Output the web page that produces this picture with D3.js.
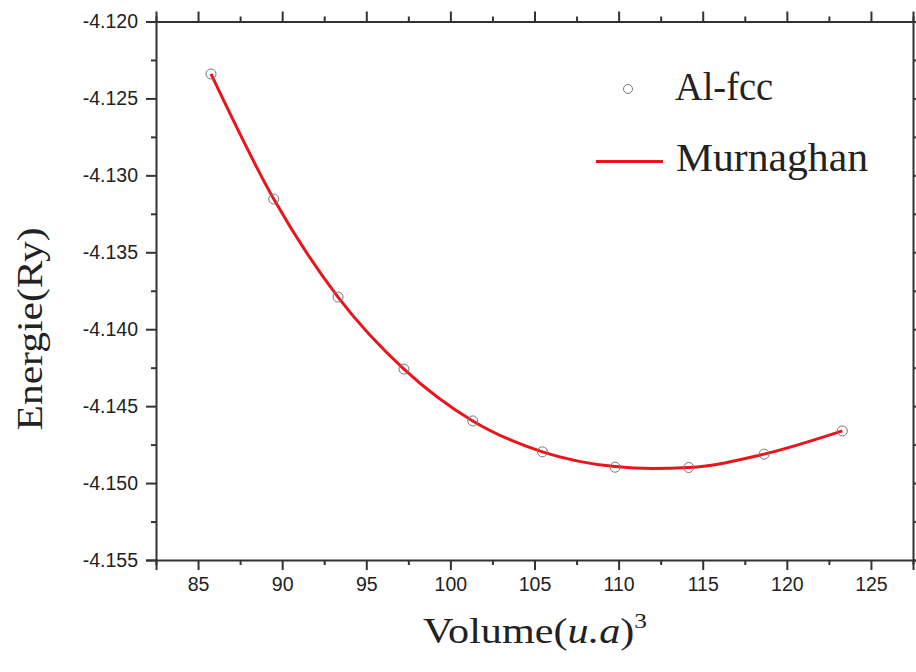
<!DOCTYPE html>
<html>
<head>
<meta charset="utf-8">
<script src="https://cdn.jsdelivr.net/npm/d3@7"></script>
<style>
  html, body { margin: 0; padding: 0; background: #fff; }
  svg { display: block; }
</style>
</head>
<body>
<svg id="chart" width="916" height="672"></svg>
<script>
// ---- Data ----
const volume = [85.77, 89.50, 93.32, 97.24, 101.33, 105.47, 109.79, 114.17, 118.65, 123.30];
const energy = [-4.12341, -4.13154, -4.13791, -4.14259, -4.14596, -4.14797, -4.14897, -4.14899, -4.14812, -4.14661];
const fitVolume = [85.77, 89.50, 93.32, 97.24, 101.33, 105.47, 109.79, 112.00, 114.17, 118.65, 123.30];
const fitEnergy = [-4.12341, -4.13154, -4.13791, -4.14259, -4.14596, -4.14797, -4.14893, -4.14905, -4.14899, -4.14812, -4.14661];
const xTicks = [85, 90, 95, 100, 105, 110, 115, 120, 125];
const xMinor = [82.5, 87.5, 92.5, 97.5, 102.5, 107.5, 112.5, 117.5, 122.5, 127.5];
const yTicks = [-4.120, -4.125, -4.130, -4.135, -4.140, -4.145, -4.150, -4.155];
const yMinor = [-4.1225, -4.1275, -4.1325, -4.1375, -4.1425, -4.1475, -4.1525];
const legendLabels = ["Al-fcc", "Murnaghan"];

// ---- Layout ----
const L = 156, R = 913, T = 21.5, B = 560;
const svg = d3.select("#chart");
const x = d3.scaleLinear().domain([82.5, 127.5]).range([L, R]);
const y = d3.scaleLinear().domain([-4.155, -4.120]).range([B, T]);
const axisColor = "#333";
const tickFont = "'Liberation Sans', Arial, sans-serif";
const serif = "'Liberation Serif', 'Times New Roman', serif";

function styleAxis(g) {
  g.selectAll("path.domain").attr("stroke", axisColor).attr("stroke-width", 2);
  g.selectAll(".tick line").attr("stroke", axisColor).attr("stroke-width", 2);
  g.selectAll(".tick text").attr("fill", "#222").style("font-family", tickFont).style("font-size", "19.5px");
}
function minor(g) {
  g.select("path.domain").remove();
  g.selectAll(".tick line").attr("stroke", axisColor).attr("stroke-width", 2);
}

// Bottom axis
const gB = svg.append("g").attr("transform", `translate(0,${B})`)
  .call(d3.axisBottom(x).tickValues(xTicks).tickSize(10).tickPadding(7).tickFormat(d3.format("d")));
styleAxis(gB);
svg.append("g").attr("transform", `translate(0,${B})`)
  .call(d3.axisBottom(x).tickValues(xMinor).tickSize(5).tickFormat("")).call(minor);

// Top axis
const gT = svg.append("g").attr("transform", `translate(0,${T})`)
  .call(d3.axisTop(x).tickValues(xTicks).tickSize(10).tickFormat(""));
styleAxis(gT);
svg.append("g").attr("transform", `translate(0,${T})`)
  .call(d3.axisTop(x).tickValues(xMinor).tickSize(5).tickFormat("")).call(minor);

// Left axis
const gL = svg.append("g").attr("transform", `translate(${L},0)`)
  .call(d3.axisLeft(y).tickValues(yTicks).tickSize(10).tickPadding(8).tickFormat(d3.format(".3f")));
styleAxis(gL);
gL.selectAll(".tick text").text(d => d3.format(".3f")(d).replace("−", "-"));
svg.append("g").attr("transform", `translate(${L},0)`)
  .call(d3.axisLeft(y).tickValues(yMinor).tickSize(5).tickFormat("")).call(minor);

// Right axis
const gR = svg.append("g").attr("transform", `translate(${R},0)`)
  .call(d3.axisRight(y).tickValues(yTicks).tickSize(10).tickFormat(""));
styleAxis(gR);
svg.append("g").attr("transform", `translate(${R},0)`)
  .call(d3.axisRight(y).tickValues(yMinor).tickSize(5).tickFormat("")).call(minor);

// Fit line
const fitData = fitVolume.map((v, i) => [v, fitEnergy[i]]);
svg.append("path")
  .datum(fitData)
  .attr("fill", "none")
  .attr("stroke", "#e8161c")
  .attr("stroke-width", 3)
  .attr("d", d3.line().x(d => x(d[0])).y(d => y(d[1])).curve(d3.curveMonotoneX));

// Data points
svg.append("g").selectAll("circle")
  .data(volume.map((v, i) => [v, energy[i]]))
  .join("circle")
  .attr("cx", d => x(d[0]))
  .attr("cy", d => y(d[1]))
  .attr("r", 5)
  .attr("fill", "none")
  .attr("stroke", "#777")
  .attr("stroke-width", 1);

// Legend
const lg = svg.append("g");
lg.append("circle").attr("cx", 628).attr("cy", 89).attr("r", 4.5)
  .attr("fill", "none").attr("stroke", "#777").attr("stroke-width", 1);
lg.append("text").attr("x", 675).attr("y", 100).text(legendLabels[0])
  .attr("textLength", 98).attr("lengthAdjust", "spacingAndGlyphs")
  .style("font-family", serif).style("font-size", "39px").attr("fill", "#222");
lg.append("line").attr("x1", 596).attr("x2", 663).attr("y1", 161.5).attr("y2", 161.5)
  .attr("stroke", "#e8161c").attr("stroke-width", 3);
lg.append("text").attr("x", 676).attr("y", 171).text(legendLabels[1])
  .attr("textLength", 192).attr("lengthAdjust", "spacingAndGlyphs")
  .style("font-family", serif).style("font-size", "39px").attr("fill", "#222");

// Axis titles
const xt = svg.append("text").attr("x", 423).attr("y", 643)
  .attr("textLength", 224).attr("lengthAdjust", "spacingAndGlyphs")
  .style("font-family", serif).style("font-size", "35px").attr("fill", "#222");
xt.append("tspan").text("Volume(");
xt.append("tspan").text("u.a").style("font-style", "italic");
xt.append("tspan").text(")");
xt.append("tspan").text("3").attr("dy", -15).style("font-size", "21px");

svg.append("text")
  .attr("transform", "translate(42,329) rotate(-90)")
  .attr("text-anchor", "middle")
  .attr("textLength", 203).attr("lengthAdjust", "spacingAndGlyphs")
  .style("font-family", serif).style("font-size", "35px").attr("fill", "#222")
  .text("Energie(Ry)");
</script>
</body>
</html>
